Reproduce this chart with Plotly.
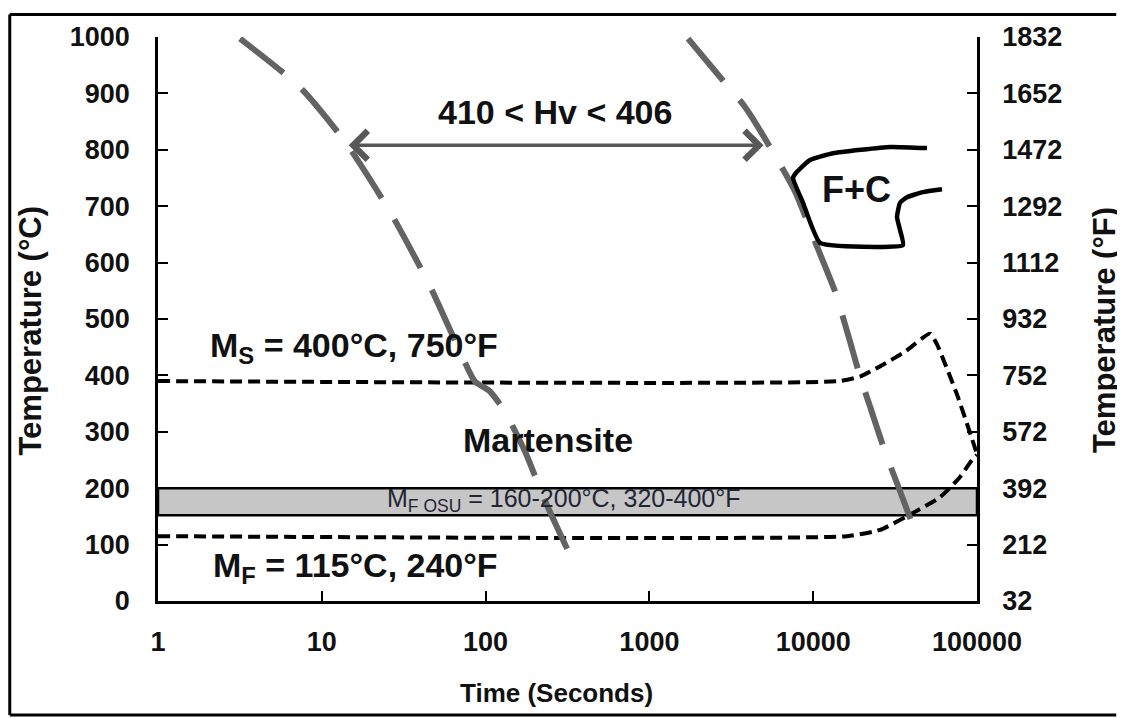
import math
import plotly.graph_objects as go

# ---------------- data ----------------
# cooling curve 1 (time s, temperature C)
c1_t = [3.17, 7.36, 13.9, 26.1, 45.8, 69.8, 86.1, 106, 131, 174, 231, 337]
c1_T = [997, 911, 814, 690, 558, 442, 389, 372, 336, 265, 177, 74]
# cooling curve 2
c2_t = [1722, 2699, 3837, 5447, 7745, 10260, 13590, 16790, 19320, 22230, 27430, 33880, 41800]
c2_T = [997, 929, 876, 805, 726, 637, 549, 460, 398, 345, 265, 195, 124]
# Ms line
ms_t = [1, 14600, 19320, 25580, 36310, 51650, 57000, 75500, 93150, 100000]
ms_T = [390, 390, 398, 416, 442, 474, 455, 366, 288, 260]
# Mf line
mf_t = [1, 16070, 25580, 40650, 59430, 78750, 93150, 100000]
mf_T = [115, 115, 126, 156, 184, 220, 250, 259]
# F+C region boundary
fc_t = [49540, 29440, 13210, 9550, 7960, 7530, 8670, 11010, 35320, 33880, 32480, 33880, 37390, 46780, 61100]
fc_T = [803, 805, 794, 782, 761, 750, 706, 635, 631, 658, 681, 706, 716, 725, 730]
# OSU Mf band (C)
band_lo, band_hi = 152, 200
# hardness arrow
arrow_t = [14.3, 4975]
arrow_T = 808
# ticks
x_ticks = [1, 10, 100, 1000, 10000, 100000]
x_ticklabels = ["1", "10", "100", "1000", "10000", "100000"]
yC_ticks = [0, 100, 200, 300, 400, 500, 600, 700, 800, 900, 1000]
yF_ticks = [32, 212, 392, 572, 752, 932, 1112, 1292, 1472, 1652, 1832]

FONT = "Liberation Sans, Arial, sans-serif"

fig = go.Figure()

# band
fig.add_shape(type="rect", xref="x", yref="y", x0=x_ticks[0], x1=x_ticks[-1],
              y0=band_lo, y1=band_hi, fillcolor="#c6c6c6", line=dict(color="black", width=2.5), layer="below")

dash_black = dict(color="black", width=4, dash="12px,6px")
fig.add_trace(go.Scatter(x=ms_t, y=ms_T, mode="lines", line=dict(**dash_black, shape="spline", smoothing=0.5), showlegend=False))
fig.add_trace(go.Scatter(x=mf_t, y=mf_T, mode="lines", line=dict(**dash_black, shape="spline", smoothing=0.5), showlegend=False))

gray = dict(color="#636363", width=6, dash="55px,25px")
fig.add_trace(go.Scatter(x=c1_t, y=c1_T, mode="lines", line=dict(**gray, shape="spline", smoothing=0.6), showlegend=False))
fig.add_trace(go.Scatter(x=c2_t, y=c2_T, mode="lines", line=dict(**gray, shape="spline", smoothing=0.6), showlegend=False))

fig.add_trace(go.Scatter(x=fc_t, y=fc_T, mode="lines", line=dict(color="black", width=4.5, shape="spline", smoothing=0.4), showlegend=False))

# invisible trace for right axis
fig.add_trace(go.Scatter(x=[x_ticks[0]], y=[yF_ticks[0]], yaxis="y2", mode="markers",
                         marker=dict(opacity=0), showlegend=False, hoverinfo="skip"))

# arrow
fig.add_annotation(x=math.log10(arrow_t[1]), y=arrow_T, ax=math.log10(arrow_t[0]), ay=arrow_T,
                   xref="x", yref="y", axref="x", ayref="y", text="", showarrow=True,
                   arrowhead=4, startarrowhead=4, arrowside="end+start", arrowwidth=3.5,
                   arrowsize=1.6, startarrowsize=1.6, arrowcolor="#585858")

def txt(x, y, s, size, bold=True, color="#111111"):
    fig.add_annotation(x=x, y=y, xref="x", yref="y", text=s, showarrow=False,
                       xanchor="center", yanchor="middle",
                       font=dict(family=FONT, size=size, color=color, weight="bold" if bold else "normal"))

txt(2.424, 867, "410 < Hv < 406", 34)
txt(2.381, 285, "Martensite", 34)
txt(4.267, 729, "F+C", 36)
txt(1.197, 449, "M<sub>S</sub> = 400°C, 750°F", 34)
txt(1.203, 60, "M<sub>F</sub> = 115°C, 240°F", 34)
txt(2.479, 179, "M<sub>F OSU</sub> = 160-200°C, 320-400°F", 25, bold=False, color="#1f2535")

# axis titles
def ptxt(x, y, s, size, angle=0):
    fig.add_annotation(x=x, y=y, xref="paper", yref="paper", text=s, showarrow=False, textangle=angle,
                       xanchor="center", yanchor="middle",
                       font=dict(family=FONT, size=size, color="#111111", weight="bold"))

ptxt(-0.156, 0.48, "Temperature (°C)", 31, -90)
ptxt(1.156, 0.48, "Temperature (°F)", 31, -90)
ptxt(0.487, -0.163, "Time (Seconds)", 26)

# outer frame
for (x0, y0, x1, y1) in [(-0.181, 1.04, 1.17, 1.04), (-0.181, -0.202, -0.181, 1.04), (-0.181, -0.202, 1.17, -0.202)]:
    fig.add_shape(type="line", xref="paper", yref="paper", x0=x0, y0=y0, x1=x1, y1=y1,
                  line=dict(color="black", width=3))

axis_common = dict(showline=True, linecolor="black", linewidth=2.5, ticks="inside", ticklen=10,
                   tickwidth=2, tickcolor="black", showgrid=False, zeroline=False,
                   tickfont=dict(family=FONT, size=27, color="#111111", weight="bold"))

fig.update_layout(
    width=1117, height=710,
    margin=dict(l=150, r=148, t=29, b=117),
    paper_bgcolor="white", plot_bgcolor="white",
    xaxis=dict(type="log", range=[0, 5], tickvals=x_ticks, ticktext=x_ticklabels,
               ticklabelstandoff=15, **axis_common),
    yaxis=dict(range=[0, 1000], tickvals=yC_ticks, ticklabelstandoff=20, **axis_common),
    yaxis2=dict(range=[32, 1832], tickvals=yF_ticks, overlaying="y", side="right",
                ticklabelstandoff=17, **axis_common),
    showlegend=False,
)

fig.write_html("out.html", config={"displayModeBar": False})
